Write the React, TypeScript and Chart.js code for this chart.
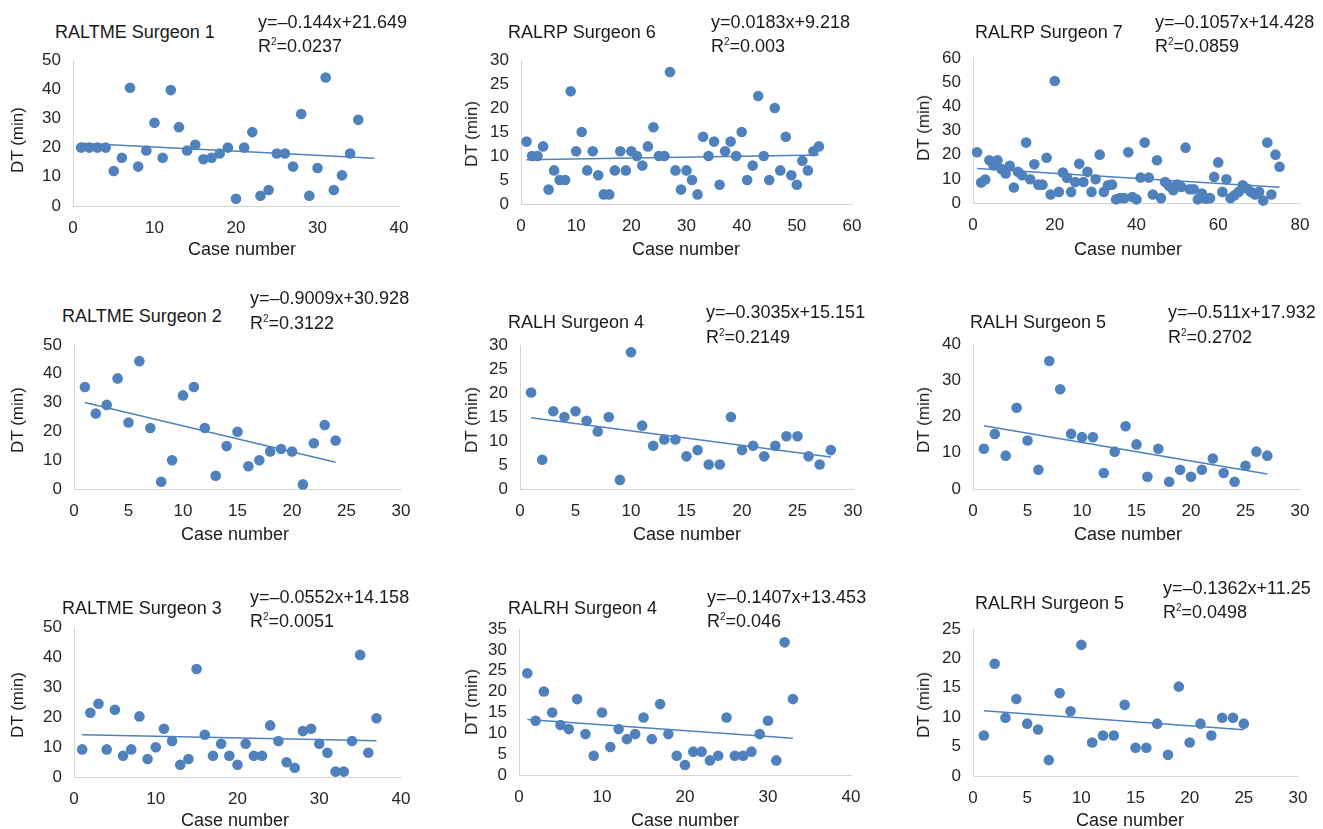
import React, { useEffect, useRef } from "react";
import { Chart, registerables } from "chart.js";

Chart.register(...registerables);

// ---------- data (DT in minutes, by case number 1..n) ----------
const dtRaltme1 = [20, 20, 20, 20, 12, 16.5, 40.5, 13.5, 19, 28.5, 16.5, 39.7, 27, 19, 21, 16, 16.5, 18, 20, 2.5, 20, 25.3, 3.5, 5.5, 18, 18, 13.5, 31.5, 3.5, 13, 44, 5.5, 10.5, 18, 29.5];
const dtRalrp6 = [13, 10, 10, 12, 3, 7, 5, 5, 23.5, 11, 15, 7, 11, 6, 2, 2, 7, 11, 7, 11, 10, 8, 12, 16, 10, 10, 27.5, 7, 3, 7, 5, 2, 14, 10, 13, 4, 11, 13, 10, 15, 5, 8, 22.5, 10, 5, 20, 7, 14, 6, 4, 9, 7, 11, 12];
const dtRalrp7 = [21, 8.5, 9.7, 17.7, 15.6, 17.7, 14, 12.2, 15.4, 6.4, 12.9, 11.5, 25, 9.8, 16, 7.6, 7.6, 18.7, 3.5, 50.5, 4.6, 12.6, 10.4, 4.6, 8.7, 16.2, 8.7, 12.9, 4.6, 9.8, 20, 4.6, 7.3, 7.6, 1.5, 2, 2, 21, 2.5, 1.5, 10.5, 25, 10.5, 3.5, 17.7, 2, 8.7, 7, 5.3, 7.6, 6.6, 22.9, 5.7, 5.7, 1.5, 3.9, 1.8, 2, 10.8, 16.8, 4.6, 9.8, 2, 3.2, 4.6, 7.3, 6, 4.6, 3.5, 4.6, 1, 25, 3.5, 20, 15];
const dtRaltme2 = [35.4, 26.2, 29.2, 38.4, 23.1, 44.4, 21.2, 2.5, 10, 32.5, 35.4, 21.2, 4.6, 14.9, 19.9, 7.9, 10, 13, 13.9, 13, 1.6, 15.9, 22.2, 16.8];
const dtRalh4 = [20.1, 6.1, 16.2, 15, 16.2, 14.2, 12, 15, 1.9, 28.5, 13.2, 9, 10.3, 10.3, 6.8, 8.1, 5.1, 5.1, 15, 8.1, 9, 6.8, 9, 11, 11, 6.8, 5.1, 8.1];
const dtRalh5 = [11.1, 15.2, 9.2, 22.4, 13.4, 5.3, 35.3, 27.5, 15.2, 14.3, 14.3, 4.4, 10.3, 17.3, 12.3, 3.4, 11.1, 2, 5.3, 3.4, 5.3, 8.4, 4.4, 2, 6.4, 10.3, 9.2];
const dtRaltme3 = [9.2, 21.4, 24.4, 9.2, 22.4, 7.1, 9.2, 20.2, 6, 9.9, 16.1, 12, 4.1, 6, 36, 14.1, 7.1, 11.1, 7.1, 4.1, 11.1, 7.1, 7.1, 17.2, 12, 4.9, 3.1, 15.3, 16.1, 11.1, 8.1, 1.8, 1.8, 12, 40.7, 8.1, 19.6];
const dtRalrh4 = [24.4, 13, 20, 15, 12, 11, 18.2, 9.8, 4.6, 15, 6.7, 11, 8.6, 9.8, 13.8, 8.6, 17, 9.8, 4.6, 2.4, 5.6, 5.6, 3.5, 4.6, 13.8, 4.6, 4.6, 5.6, 9.8, 13, 3.5, 31.8, 18.2];
const dtRalrh5 = [6.9, 19.1, 9.9, 13.1, 8.9, 7.9, 2.7, 14.1, 11, 22.3, 5.7, 6.9, 6.9, 12.1, 4.8, 4.8, 8.9, 3.6, 15.2, 5.7, 8.9, 6.9, 9.9, 9.9, 8.9];

const series = [dtRaltme1, dtRalrp6, dtRalrp7, dtRaltme2, dtRalh4, dtRalh5, dtRaltme3, dtRalrh4, dtRalrh5];
const titles = ["RALTME Surgeon 1", "RALRP Surgeon 6", "RALRP Surgeon 7", "RALTME Surgeon 2", "RALH Surgeon 4", "RALH Surgeon 5", "RALTME Surgeon 3", "RALRH Surgeon 4", "RALRH Surgeon 5"];
const slopes = [-0.144, 0.0183, -0.1057, -0.9009, -0.3035, -0.511, -0.0552, -0.1407, -0.1362];
const intercepts = [21.649, 9.218, 14.428, 30.928, 15.151, 17.932, 14.158, 13.453, 11.25];
const rSquared = ["0.0237", "0.003", "0.0859", "0.3122", "0.2149", "0.2702", "0.0051", "0.046", "0.0498"];
const trendFrom = [1, 1, 1, 1, 1, 1, 1, 1, 1];
const trendTo = [37, 54, 75, 24, 28, 27, 37, 33, 25];
const xMaxes = [40, 60, 80, 30, 30, 30, 40, 40, 30];
const xSteps = [10, 10, 20, 5, 5, 5, 10, 10, 5];
const yMaxes = [50, 30, 60, 50, 30, 40, 50, 35, 25];
const ySteps = [10, 5, 10, 10, 5, 10, 10, 5, 5];
const xAxisTitle = "Case number";
const yAxisTitle = "DT (min)";

// ---------- layout (page pixels) ----------
type Box = {
  l: number; r: number; t: number; b: number;
  tx: number; ty: number; ex: number; ey: number; ry: number;
  yx: number; yy: number; xx: number; xy: number;
};
const boxes: Box[] = [
  { l: 73, r: 399, t: 60, b: 206, tx: 55, ty: 32, ex: 258, ey: 22, ry: 46, yx: 18, yy: 140, xx: 242, xy: 249 },
  { l: 521, r: 852, t: 60, b: 204, tx: 508, ty: 32, ex: 711, ey: 22, ry: 46, yx: 472, yy: 134, xx: 686, xy: 249 },
  { l: 973, r: 1300, t: 58, b: 203, tx: 975, ty: 32, ex: 1155, ey: 22, ry: 46, yx: 924, yy: 128, xx: 1128, xy: 249 },
  { l: 74, r: 401, t: 345, b: 489, tx: 62, ty: 316, ex: 250, ey: 298, ry: 323, yx: 18, yy: 420, xx: 235, xy: 534 },
  { l: 520, r: 853, t: 345, b: 489, tx: 508, ty: 322, ex: 706, ey: 312, ry: 337, yx: 472, yy: 420, xx: 687, xy: 534 },
  { l: 973, r: 1300, t: 344, b: 489, tx: 970, ty: 322, ex: 1168, ey: 312, ry: 337, yx: 924, yy: 420, xx: 1128, xy: 534 },
  { l: 74, r: 401, t: 627, b: 777, tx: 62, ty: 608, ex: 250, ey: 597, ry: 621, yx: 18, yy: 705, xx: 235, xy: 820 },
  { l: 519, r: 851, t: 629, b: 775, tx: 508, ty: 608, ex: 707, ey: 597, ry: 621, yx: 472, yy: 702, xx: 685, xy: 820 },
  { l: 973, r: 1298, t: 629, b: 776, tx: 975, ty: 603, ex: 1163, ey: 588, ry: 612, yx: 924, yy: 705, xx: 1130, xy: 820 },
];

const FONT = '"Liberation Sans", Arial, Helvetica, sans-serif';
const BLUE = "#4f81bd";
const TICK = "#262626";
const AXIS = "#d4d4d4";
const PAD_L = 45, PAD_T = 16, PAD_R = 16, PAD_B = 36;

function eqText(i: number) {
  const s = slopes[i];
  const sign = s < 0 ? "\u2013" : "";
  return `y=${sign}${Math.abs(s)}x+${intercepts[i]}`;
}

function Panel({ i }: { i: number }) {
  const ref = useRef<HTMLCanvasElement | null>(null);
  const bx = boxes[i];
  const w = bx.r - bx.l + PAD_L + PAD_R;
  const h = bx.b - bx.t + PAD_T + PAD_B;

  useEffect(() => {
    if (!ref.current) return;
    const pts = series[i].map((v, k) => ({ x: k + 1, y: v }));
    const f = (x: number) => slopes[i] * x + intercepts[i];
    const zeroPad = (s: any) => {
      s.paddingLeft = 0; s.paddingRight = 0; s.paddingTop = 0; s.paddingBottom = 0;
    };
    const chart = new Chart(ref.current, {
      type: "scatter",
      data: {
        datasets: [
          {
            data: [
              { x: trendFrom[i], y: f(trendFrom[i]) },
              { x: trendTo[i], y: f(trendTo[i]) },
            ],
            showLine: true,
            borderColor: BLUE,
            backgroundColor: BLUE,
            borderWidth: 1.5,
            pointRadius: 0,
            clip: false as any,
          },
          {
            data: pts,
            backgroundColor: BLUE,
            borderColor: BLUE,
            borderWidth: 0,
            pointRadius: 5.3,
            clip: false as any,
          },
        ],
      },
      options: {
        responsive: false,
        animation: false,
        devicePixelRatio: 1,
        events: [],
        layout: { padding: { left: 0, top: PAD_T, right: PAD_R, bottom: 0 } },
        plugins: { legend: { display: false }, tooltip: { enabled: false }, title: { display: false } },
        scales: {
          x: {
            type: "linear",
            min: 0,
            max: xMaxes[i],
            ticks: { stepSize: xSteps[i], padding: 12, color: TICK, font: { family: FONT, size: 17 }, maxRotation: 0, autoSkip: false },
            grid: { display: false, drawTicks: false },
            border: { display: true, color: AXIS, width: 1 },
            afterFit: (s: any) => { s.height = PAD_B; zeroPad(s); },
          },
          y: {
            type: "linear",
            min: 0,
            max: yMaxes[i],
            ticks: { stepSize: ySteps[i], padding: 12, color: TICK, font: { family: FONT, size: 17 }, autoSkip: false },
            grid: { display: false, drawTicks: false },
            border: { display: true, color: AXIS, width: 1 },
            afterFit: (s: any) => { s.width = PAD_L; zeroPad(s); },
          },
        },
      },
    });
    return () => chart.destroy();
  }, [i]);

  const textBase: React.CSSProperties = {
    position: "absolute",
    fontFamily: FONT,
    color: "#1a1a1a",
    whiteSpace: "nowrap",
    lineHeight: "22px",
    height: 22,
  };

  return (
    <>
      <canvas
        ref={ref}
        width={w}
        height={h}
        style={{ position: "absolute", left: bx.l - PAD_L, top: bx.t - PAD_T, width: w, height: h }}
      />
      <div style={{ ...textBase, left: bx.tx, top: bx.ty - 11, fontSize: 18 }}>{titles[i]}</div>
      <div style={{ ...textBase, left: bx.ex, top: bx.ey - 11, fontSize: 18 }}>{eqText(i)}</div>
      <div style={{ ...textBase, left: bx.ex, top: bx.ry - 11, fontSize: 18 }}>
        R<span style={{ fontSize: 10, position: "relative", top: -7 }}>2</span>={rSquared[i]}
      </div>
      <div
        style={{
          ...textBase,
          left: bx.yx,
          top: bx.yy,
          fontSize: 17,
          transform: "translate(-50%, -50%) rotate(-90deg)",
        }}
      >
        {yAxisTitle}
      </div>
      <div
        style={{
          ...textBase,
          left: bx.xx,
          top: bx.xy,
          fontSize: 18,
          transform: "translate(-50%, -50%)",
        }}
      >
        {xAxisTitle}
      </div>
    </>
  );
}

export default function App() {
  return (
    <div
      style={{
        position: "absolute",
        left: 0,
        top: 0,
        width: 1323,
        height: 829,
        overflow: "hidden",
        background: "#ffffff",
      }}
    >
      {series.map((_, i) => (
        <Panel key={i} i={i} />
      ))}
    </div>
  );
}
